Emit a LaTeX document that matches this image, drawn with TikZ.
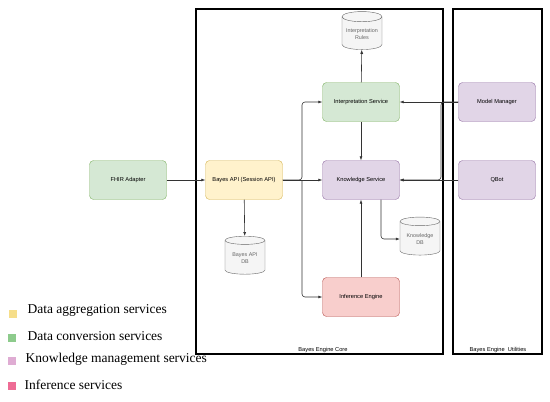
\documentclass[tikz,border=0pt]{standalone}
\usepackage{fontspec}
\setmainfont{Liberation Serif}
\newfontfamily\boxfont{Liberation Sans}
\usetikzlibrary{shapes.geometric,arrows.meta}

\definecolor{aggrfill}{HTML}{FFF2CC}
\definecolor{aggrline}{HTML}{D6B656}
\definecolor{convfill}{HTML}{D5E8D4}
\definecolor{convline}{HTML}{82B366}
\definecolor{kmfill}{HTML}{E1D5E7}
\definecolor{kmline}{HTML}{9673A6}
\definecolor{inffill}{HTML}{F8CECC}
\definecolor{infline}{HTML}{B85450}
\definecolor{dbfill}{HTML}{F5F5F5}
\definecolor{dbline}{HTML}{666666}
\definecolor{linkgray}{HTML}{333333}
\definecolor{keyaggr}{HTML}{F6DE8A}
\definecolor{keyconv}{HTML}{8DCB8C}
\definecolor{keykm}{HTML}{DFACD3}
\definecolor{keyinf}{HTML}{EE6C95}

\begin{document}
\begin{tikzpicture}[x=1pt,y=-1pt,
    svc/.style={draw, rounded corners=4pt, minimum width=77pt, minimum height=39pt,
        font=\boxfont\fontsize{5.7}{7}\selectfont},
    aggr/.style={svc, fill=aggrfill, draw=aggrline},
    conv/.style={svc, fill=convfill, draw=convline},
    km/.style={svc, fill=kmfill, draw=kmline},
    inf/.style={svc, fill=inffill, draw=infline},
    store/.style={cylinder, shape border rotate=90, aspect=0.3, draw=dbline, fill=dbfill,
        minimum width=40pt, minimum height=38pt, inner sep=1pt, align=center,
        text=dbline, font=\boxfont\fontsize{5.4}{6.5}\selectfont},
    link/.style={-{Latex[length=4pt,width=3pt]}, draw=linkgray, line width=0.6pt,
        rounded corners=3pt},
    frame/.style={draw, line width=1.6pt},
    framelbl/.style={font=\boxfont\fontsize{5.7}{7}\selectfont},
    key/.style={minimum size=8pt, inner sep=0pt},
    keytext/.style={anchor=west, font=\fontsize{13.5}{15}\selectfont}]
    \useasboundingbox (0,0) rectangle (550,402);

    \draw [frame] (196,9) rectangle (443,354);
    \draw [frame] (453,9) rectangle (542,354);
    \path (323,350) node [framelbl] (corelbl) {Bayes Engine Core};
    \path (498,350) node [framelbl] (utillbl) {Bayes Engine\ \ Utilities};

    \path (128,180) node [conv] (fhir) {FHIR Adapter};
    \path (244,180) node [aggr] (api) {Bayes API (Session API)};
    \path (361,102) node [conv] (interp) {Interpretation Service};
    \path (361,180) node [km] (know) {Knowledge Service};
    \path (361,297) node [inf] (infer) {Inference Engine};
    \path (497,102) node [km] (model) {Model Manager};
    \path (497,180) node [km] (qbot) {QBot};
    \path (362,34) node [store] (rules) {Interpretation\\Rules};
    \path (245,258) node [store] (apidb) {Bayes API\\DB};
    \path (420,239) node [store] (kdb) {Knowledge\\DB};

    \coordinate (fork) at (302,180);
    \coordinate (mfork) at (441,102);
    \draw [link] (fhir) -- (api);
    \draw [link] (api) -- (apidb);
    \draw [link] (api.east) -- (know.west);
    \draw [link] (api.east) -- (fork) |- (interp.west);
    \draw [link] (fork) |- (infer.west);
    \draw [link] (interp) -- (rules);
    \draw [link] (interp) -- (know);
    \draw [link] (infer) -- (know);
    \draw [link] ([xshift=20pt]know.south) |- (kdb.west);
    \draw [link] (model) -- (interp);
    \draw [link] (model.west) -- (mfork) |- (know.east);
    \draw [link] (qbot) -- (know);

    % legend
    \path (13,314) node [key, fill=keyaggr] (k1) {};
    \path (12,338) node [key, fill=keyconv] (k2) {};
    \path (12,361) node [key, fill=keykm] (k3) {};
    \path (12,386) node [key, fill=keyinf] (k4) {};
    \path (24,310) node [keytext] (t1) {Data aggregation services};
    \path (24,336) node [keytext] (t2) {Data conversion services};
    \path (22,359) node [keytext] (t3) {Knowledge management services};
    \path (21,385) node [keytext] (t4) {Inference services};
\end{tikzpicture}
\end{document}
